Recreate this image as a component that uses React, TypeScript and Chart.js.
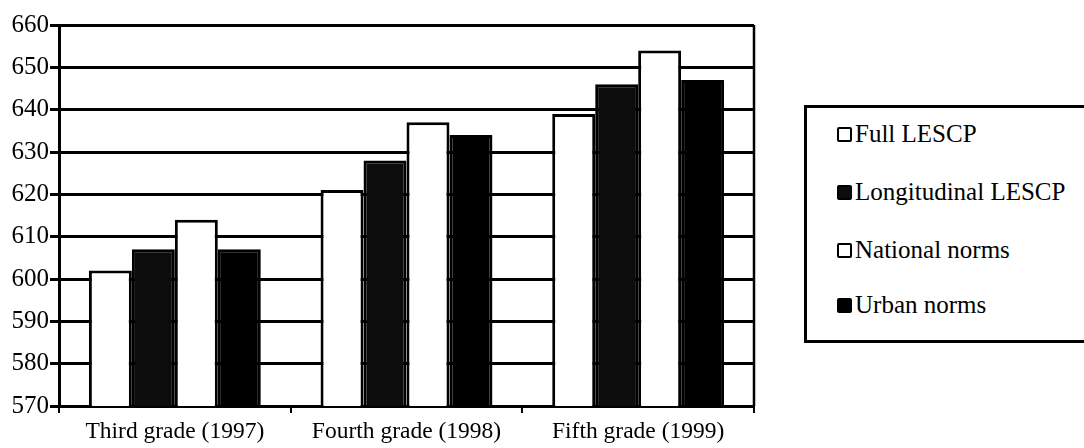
import React, { useEffect, useRef } from "react";
import { Chart, registerables } from "chart.js";

Chart.register(...registerables);

const categories = ["Third grade (1997)", "Fourth grade (1998)", "Fifth grade (1999)"];
const fullLESCP = [602, 621, 639];
const longitudinalLESCP = [607, 628, 646];
const nationalNorms = [614, 637, 654];
const urbanNorms = [607, 634, 647];
const seriesNames = ["Full LESCP", "Longitudinal LESCP", "National norms", "Urban norms"];
const seriesFills = ["#ffffff", "#0c0c0c", "#ffffff", "#000000"];
const yMin = 570;
const yMax = 660;
const yStep = 10;

const FONT = "'Liberation Serif', 'Times New Roman', serif";

const framePlugin = {
  id: "frameRight",
  afterDatasetsDraw(chart: any) {
    const { ctx, chartArea } = chart;
    ctx.save();
    ctx.strokeStyle = "#000";
    ctx.lineWidth = 2.5;
    ctx.beginPath();
    ctx.moveTo(chartArea.right, chartArea.top);
    ctx.lineTo(chartArea.right, chartArea.bottom);
    ctx.stroke();
    ctx.restore();
  },
};

export default function App() {
  const canvasRef = useRef<HTMLCanvasElement | null>(null);

  useEffect(() => {
    const canvas = canvasRef.current;
    if (!canvas) return;
    const seriesData = [fullLESCP, longitudinalLESCP, nationalNorms, urbanNorms];
    const chart = new Chart(canvas, {
      type: "bar",
      data: {
        labels: categories,
        datasets: seriesNames.map((name, i) => ({
          label: name,
          data: seriesData[i],
          backgroundColor: seriesFills[i],
          borderColor: "#000",
          borderWidth: 3,
          categoryPercentage: 0.742,
          barPercentage: 1,
        })),
      },
      options: {
        animation: false,
        responsive: false,
        devicePixelRatio: 1,
        layout: { padding: { top: 25, right: 330, left: 0, bottom: 0 } },
        plugins: {
          legend: { display: false },
          tooltip: { enabled: false },
        },
        scales: {
          x: {
            offset: true,
            grid: {
              display: true,
              drawOnChartArea: false,
              drawTicks: true,
              tickLength: 7,
              color: "#000",
              lineWidth: 2,
              offset: true,
            },
            border: { display: true, color: "#000", width: 3 },
            ticks: {
              color: "#000",
              font: { family: FONT, size: 23.5 },
              padding: 5,
              maxRotation: 0,
            },
            afterFit(scale: any) {
              scale.height = 42;
            },
          },
          y: {
            min: yMin,
            max: yMax,
            grid: {
              color: "#000",
              lineWidth: 3,
              drawTicks: true,
              tickLength: 9,
            },
            border: { display: true, color: "#000", width: 3 },
            ticks: {
              stepSize: yStep,
              color: "#000",
              font: { family: FONT, size: 25 },
              padding: 1,
            },
            afterFit(scale: any) {
              scale.width = 59;
            },
          },
        },
      },
      plugins: [framePlugin],
    });
    return () => chart.destroy();
  }, []);

  const itemCenters = [134, 192, 250, 305];

  return (
    <div
      style={{
        position: "fixed",
        left: 0,
        top: 0,
        width: 1084,
        height: 448,
        overflow: "hidden",
        background: "#fff",
      }}
    >
      <canvas ref={canvasRef} width={1084} height={448} style={{ position: "absolute", left: 0, top: 0 }} />
      <div
        style={{
          position: "absolute",
          left: 804,
          top: 105,
          width: 320,
          height: 238,
          boxSizing: "border-box",
          border: "3px solid #000",
          background: "#fff",
        }}
      >
        {seriesNames.map((name, i) => (
          <div
            key={name}
            style={{
              position: "absolute",
              left: 30,
              top: itemCenters[i] - 15 - 108,
              height: 30,
              display: "flex",
              alignItems: "center",
              whiteSpace: "nowrap",
              fontFamily: FONT,
              fontSize: 25,
              lineHeight: "30px",
              color: "#000",
            }}
          >
            <span
              style={{
                display: "inline-block",
                width: 15,
                height: 15,
                boxSizing: "border-box",
                border: "2.5px solid #000",
                borderRadius: 2,
                background: seriesFills[i],
                marginRight: 3,
              }}
            />
            <span>{name}</span>
          </div>
        ))}
      </div>
    </div>
  );
}
